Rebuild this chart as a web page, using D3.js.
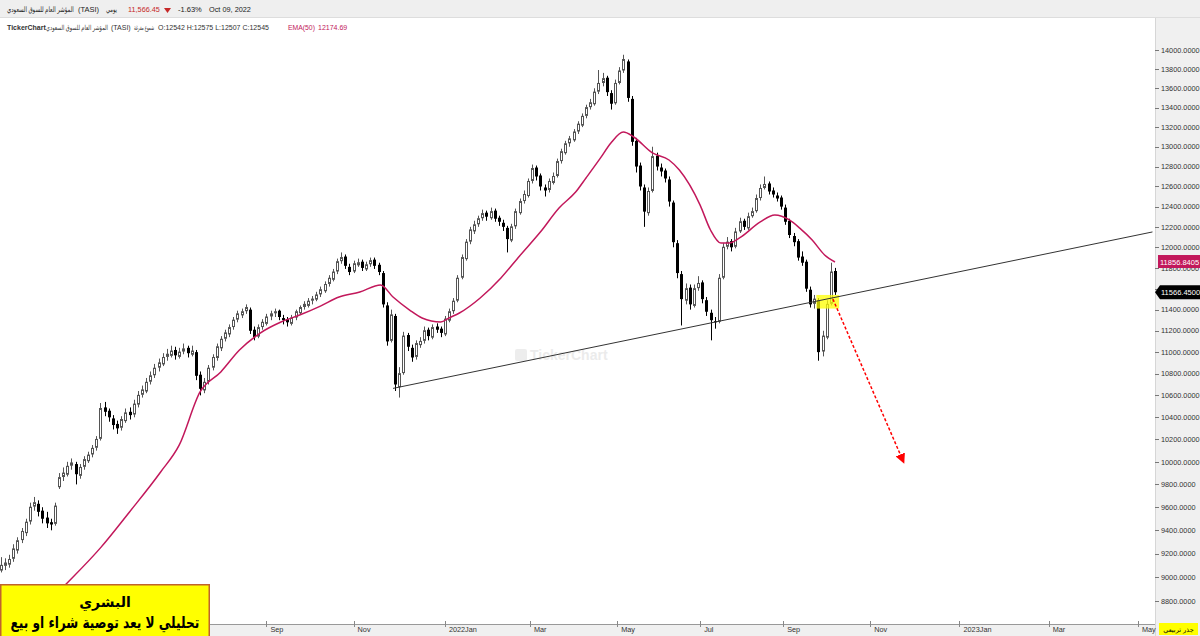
<!DOCTYPE html>
<html>
<head>
<meta charset="utf-8">
<script src="https://cdn.jsdelivr.net/npm/d3@7"></script>
<style>
  html, body { margin: 0; padding: 0; background: #fff; }
  svg { display: block; font-family: "Liberation Sans", "DejaVu Sans", sans-serif; }
</style>
</head>
<body>
<div id="chart"></div>
<script>
// TASI candles, one per two trading days, oldest first (last = Oct 09, 2022)
const opens = [
  9060, 9100, 9110, 9160, 9230, 9320, 9380, 9480, 9610, 9630,
  9570, 9510, 9470, 9460, 9780, 9870, 9890, 9970, 9980, 9880,
  9960, 10010, 10070, 10130, 10210, 10490, 10460, 10390, 10340, 10310,
  10370, 10450, 10430, 10520, 10610, 10640, 10730, 10790, 10860, 10890,
  10960, 10970, 11020, 10960, 11010, 11040, 10980, 11000, 10790, 10650,
  10730, 10860, 10950, 11040, 11130, 11170, 11240, 11310, 11350, 11390,
  11400, 11210, 11150, 11240, 11270, 11340, 11370, 11390, 11320, 11310,
  11270, 11330, 11370, 11430, 11440, 11490, 11500, 11550, 11580, 11650,
  11690, 11770, 11870, 11910, 11810, 11770, 11830, 11860, 11790, 11840,
  11880, 11830, 11750, 11440, 11110, 11340, 10680, 10810, 11160, 11040,
  10960, 11070, 11110, 11210, 11140, 11240, 11220, 11170, 11300, 11390,
  11490, 11710, 11890, 12060, 12160, 12230, 12290, 12340, 12290, 12360,
  12290, 12240, 12190, 12070, 12210, 12340, 12460, 12510, 12660, 12790,
  12710, 12590, 12570, 12640, 12710, 12860, 12940, 13040, 13070, 13160,
  13220, 13320, 13410, 13440, 13570, 13660, 13710, 13550, 13450, 13660,
  13790, 13880, 13490, 13060, 12810, 12590, 12340, 12560, 12910, 12790,
  12760, 12670, 12440, 12040, 11740, 11490, 11610, 11440, 11610, 11660,
  11490, 11370, 11290, 11290, 11710, 12010, 12060, 12010, 12160, 12260,
  12190, 12310, 12360, 12490, 12590, 12630, 12560, 12510, 12490, 12390,
  12260, 12110, 12060, 11910, 11860, 11590, 11460, 11490, 11010, 11140,
  11460, 11770
];
const highs = [
  9170, 9160, 9190, 9280, 9340, 9420, 9500, 9640, 9690, 9660,
  9600, 9560, 9500, 9640, 9900, 9950, 10000, 10030, 10000, 9980,
  10050, 10090, 10150, 10230, 10530, 10540, 10480, 10420, 10370, 10410,
  10480, 10490, 10560, 10640, 10690, 10760, 10820, 10890, 10940, 10990,
  11030, 11060, 11050, 11040, 11080, 11060, 11060, 11020, 10820, 10760,
  10880, 10980, 11080, 11150, 11210, 11260, 11330, 11390, 11410, 11450,
  11420, 11240, 11260, 11310, 11360, 11390, 11410, 11400, 11350, 11330,
  11350, 11400, 11440, 11480, 11510, 11530, 11570, 11620, 11670, 11730,
  11790, 11890, 11950, 11930, 11840, 11870, 11890, 11880, 11860, 11900,
  11900, 11850, 11770, 11470, 11400, 11360, 10860, 11190, 11180, 11070,
  11110, 11140, 11240, 11230, 11260, 11270, 11240, 11340, 11410, 11510,
  11730, 11930, 12080, 12200, 12260, 12310, 12370, 12360, 12390, 12380,
  12310, 12270, 12210, 12230, 12380, 12480, 12560, 12680, 12820, 12810,
  12730, 12620, 12680, 12740, 12880, 12980, 13060, 13110, 13180, 13260,
  13340, 13430, 13490, 13600, 13790, 13760, 13730, 13580, 13690, 13820,
  13950, 13900, 13520, 13090, 12840, 12620, 12590, 13000, 12940, 12830,
  12780, 12700, 12460, 12070, 11770, 11650, 11640, 11640, 11720, 11680,
  11520, 11400, 11330, 11740, 12040, 12100, 12080, 12190, 12290, 12280,
  12340, 12390, 12520, 12620, 12700, 12650, 12590, 12540, 12510, 12420,
  12280, 12140, 12080, 11960, 11880, 11620, 11540, 11510, 11200, 11490,
  11850, 11800
];
const lows = [
  9040, 9060, 9080, 9130, 9200, 9290, 9350, 9450, 9570, 9520,
  9460, 9420, 9400, 9440, 9760, 9830, 9870, 9930, 9800, 9850,
  9930, 9990, 10040, 10100, 10190, 10410, 10360, 10290, 10250, 10280,
  10350, 10380, 10400, 10490, 10580, 10620, 10700, 10760, 10820, 10870,
  10920, 10950, 10930, 10940, 10980, 10950, 10960, 10740, 10600, 10620,
  10700, 10830, 10920, 11010, 11100, 11140, 11210, 11280, 11320, 11360,
  11170, 11110, 11130, 11210, 11250, 11300, 11330, 11300, 11260, 11240,
  11250, 11300, 11350, 11400, 11420, 11450, 11480, 11520, 11560, 11620,
  11670, 11740, 11840, 11790, 11730, 11750, 11810, 11770, 11770, 11810,
  11790, 11730, 11420, 11060, 11090, 10640, 10580, 10790, 11010, 10910,
  10930, 11040, 11080, 11110, 11120, 11180, 11140, 11150, 11280, 11360,
  11470, 11690, 11870, 12030, 12130, 12200, 12260, 12260, 12270, 12250,
  12210, 12160, 11950, 12050, 12180, 12320, 12430, 12490, 12630, 12660,
  12560, 12500, 12540, 12620, 12690, 12830, 12920, 13000, 13050, 13130,
  13200, 13290, 13380, 13420, 13540, 13620, 13520, 13380, 13430, 13640,
  13760, 13460, 13010, 12740, 12560, 12200, 12310, 12540, 12760, 12700,
  12640, 12400, 12000, 11700, 11250, 11450, 11400, 11420, 11580, 11460,
  11340, 11110, 11220, 11270, 11690, 11980, 11960, 11990, 12140, 12170,
  12170, 12290, 12340, 12460, 12570, 12520, 12490, 12450, 12370, 12220,
  12090, 12010, 11870, 11820, 11570, 11420, 11410, 10920, 10960, 11120,
  11440, 11540
];
const closes = [
  9100, 9120, 9150, 9240, 9310, 9390, 9470, 9600, 9640, 9560,
  9500, 9460, 9450, 9610, 9860, 9900, 9960, 9990, 9890, 9950,
  10020, 10060, 10120, 10200, 10480, 10450, 10400, 10330, 10300, 10380,
  10440, 10420, 10520, 10600, 10650, 10720, 10780, 10850, 10900, 10950,
  10980, 11010, 10970, 11000, 11030, 10990, 11010, 10780, 10660, 10720,
  10850, 10950, 11050, 11120, 11180, 11230, 11300, 11360, 11380, 11420,
  11200, 11140, 11230, 11280, 11330, 11360, 11380, 11330, 11300, 11280,
  11320, 11380, 11420, 11450, 11480, 11500, 11540, 11590, 11640, 11700,
  11760, 11860, 11900, 11820, 11760, 11840, 11850, 11800, 11830, 11870,
  11820, 11760, 11450, 11100, 11350, 10700, 10800, 11150, 11050, 10950,
  11080, 11100, 11200, 11150, 11230, 11210, 11180, 11310, 11380, 11480,
  11700, 11900, 12050, 12170, 12220, 12280, 12330, 12300, 12350, 12280,
  12250, 12200, 12080, 12200, 12350, 12450, 12520, 12650, 12780, 12700,
  12600, 12560, 12650, 12700, 12850, 12950, 13030, 13080, 13150, 13230,
  13310, 13400, 13450, 13560, 13650, 13700, 13560, 13440, 13650, 13780,
  13900, 13500, 13050, 12800, 12600, 12350, 12550, 12900, 12800, 12750,
  12680, 12450, 12050, 11750, 11500, 11600, 11450, 11600, 11650, 11500,
  11380, 11300, 11280, 11700, 12000, 12050, 12000, 12150, 12250, 12200,
  12300, 12350, 12480, 12580, 12620, 12550, 12520, 12480, 12400, 12250,
  12120, 12050, 11900, 11850, 11600, 11450, 11500, 11000, 11150, 11450,
  11760, 11566
];

// EMA(50): bar offsets from the last bar, and values
const emaBars = [-398, -383, -371, -354, -340, -325, -316, -306, -296, -287,
  -277, -267, -258, -248, -239, -229, -219, -213, -205, -199,
  -190, -186, -181, -171, -161, -152, -142, -133, -125, -120,
  -113, -108, -102, -97, -88, -80, -75, -65, -60, -55,
  -51, -46, -36, -29, -22, -17, -11, -5, 0];
const emaValues = [8510, 8725, 8934, 9249, 9559, 9910, 10151, 10632, 10816, 11019,
  11179, 11283, 11349, 11434, 11520, 11568, 11635, 11520, 11396, 11321,
  11283, 11321, 11368, 11511, 11703, 11916, 12149, 12386, 12544, 12685,
  12887, 13038, 13149, 13099, 12937, 12866, 12765, 12415, 12169, 12041,
  12041, 12091, 12248, 12316, 12268, 12188, 12071, 11925, 11857];

// drawings on the chart (bar offsets / prices)
const trendBars = [-213, 153];
const trendValues = [10664, 12150];
const arrowBars = [-1, 33];
const arrowValues = [11500, 10000];
const zoneBars = [-9, 2];
const zoneValues = [11410, 11540];

const yTicks = d3.range(8800, 14001, 200);
const lastPrice = 11566.45;
const lastEma = 11856.8405;
const holidays = ["2021-09-23", "2022-02-22", "2022-04-28", "2022-05-01", "2022-05-02",
  "2022-05-03", "2022-05-04", "2022-05-05", "2022-07-07", "2022-07-10", "2022-07-11",
  "2022-07-12", "2022-09-22"];

const W = 1200, H = 636;
const plotRight = 1155, plotTop = 18, axisTop = 624;

const svg = d3.select("#chart").append("svg")
  .attr("width", W).attr("height", H)
  .attr("viewBox", `0 0 ${W} ${H}`);

// scales: trading-day index (2.075px per bar), square-root price axis
const x = d3.scaleLinear().domain([-400, 0]).range([5, 835]);
const y = d3.scaleSqrt().domain([8800, 14000]).range([601, 50]);

// trading calendar (Sun-Thu) for the month ticks
const parse = d3.utcParse("%Y-%m-%d");
const fmt = d3.utcFormat("%Y-%m-%d");
const hol = new Set(holidays);
const days = d3.utcDay.range(parse("2021-01-01"), parse("2023-07-01"))
  .filter((d) => d.getUTCDay() <= 4 && !hol.has(fmt(d)));
const lastIdx = days.findIndex((d) => fmt(d) === "2022-10-09");
const xTicks = d3.utcMonth.range(parse("2021-03-01"), parse("2023-06-01"), 2).map((m) => ({
  k: days.findIndex((d) => d >= m) - lastIdx,
  label: m.getUTCMonth() === 0 ? m.getUTCFullYear() + "Jan" : d3.utcFormat("%b")(m),
}));

const defs = svg.append("defs");
defs.append("clipPath").attr("id", "plotClip")
  .append("rect").attr("x", 0).attr("y", plotTop).attr("width", plotRight).attr("height", axisTop - plotTop);
defs.append("marker")
  .attr("id", "redHead")
  .attr("viewBox", "0 0 10 10")
  .attr("refX", 8).attr("refY", 5)
  .attr("markerUnits", "userSpaceOnUse")
  .attr("markerWidth", 10).attr("markerHeight", 10)
  .attr("orient", "auto")
  .append("path").attr("d", "M0,0 L10,5 L0,10 z").attr("fill", "#ff0000");

svg.append("rect").attr("width", W).attr("height", H).attr("fill", "#fff");

const plot = svg.append("g").attr("clip-path", "url(#plotClip)");

// watermark
const wm = plot.append("g").attr("opacity", 0.45);
wm.append("rect").attr("x", 515).attr("y", 349).attr("width", 12).attr("height", 12)
  .attr("rx", 2).attr("fill", "#d8d8d8");
wm.append("text").attr("x", 530).attr("y", 360).attr("font-size", 14).attr("font-weight", "bold")
  .attr("fill", "#d4d4d4").text("TickerChart");

// candles
const candles = closes.map((c, j) => ({
  k: 2 * j - 2 * (closes.length - 1),
  o: opens[j], h: highs[j], l: lows[j], c,
}));
const cg = plot.append("g");
cg.selectAll("line")
  .data(candles)
  .join("line")
  .attr("x1", (d) => Math.round(x(d.k)) + 0.5)
  .attr("x2", (d) => Math.round(x(d.k)) + 0.5)
  .attr("y1", (d) => y(d.h))
  .attr("y2", (d) => y(d.l))
  .attr("stroke", (d) => (d.c >= d.o ? "#555" : "#000"))
  .attr("stroke-width", 1);
cg.selectAll("rect")
  .data(candles)
  .join("rect")
  .attr("x", (d) => (d.c >= d.o ? Math.round(x(d.k)) - 0.5 : Math.round(x(d.k)) - 1))
  .attr("width", (d) => (d.c >= d.o ? 2 : 3))
  .attr("y", (d) => y(Math.max(d.o, d.c)))
  .attr("height", (d) => Math.max(1, Math.abs(y(d.o) - y(d.c))))
  .attr("fill", (d) => (d.c >= d.o ? "#fff" : "#000"))
  .attr("stroke", (d) => (d.c >= d.o ? "#555" : "none"))
  .attr("stroke-width", 1);

// EMA(50)
plot.append("path")
  .datum(emaBars.map((b, i) => [b, emaValues[i]]))
  .attr("fill", "none")
  .attr("stroke", "#c2185b")
  .attr("stroke-width", 1.5)
  .attr("d", d3.line().x((d) => x(d[0])).y((d) => y(d[1])).curve(d3.curveMonotoneX));

// highlighted zone
plot.append("rect")
  .attr("x", x(zoneBars[0])).attr("width", x(zoneBars[1]) - x(zoneBars[0]))
  .attr("y", y(zoneValues[1])).attr("height", y(zoneValues[0]) - y(zoneValues[1]))
  .attr("fill", "#ffff00").attr("opacity", 0.75);

// trendline
plot.append("line")
  .attr("x1", x(trendBars[0])).attr("y1", y(trendValues[0]))
  .attr("x2", x(trendBars[1])).attr("y2", y(trendValues[1]))
  .attr("stroke", "#333").attr("stroke-width", 1);

// red dashed arrow
plot.append("line")
  .attr("x1", x(arrowBars[0])).attr("y1", y(arrowValues[0]))
  .attr("x2", x(arrowBars[1])).attr("y2", y(arrowValues[1]))
  .attr("stroke", "#ff0000").attr("stroke-width", 1.5)
  .attr("stroke-dasharray", "3,2")
  .attr("marker-end", "url(#redHead)");

// right price axis (the last-price tag hides the label under it)
svg.append("rect").attr("x", plotRight).attr("y", plotTop).attr("width", W - plotRight)
  .attr("height", H - plotTop).attr("fill", "#f0f0f0");
svg.append("line").attr("x1", plotRight + 0.5).attr("x2", plotRight + 0.5)
  .attr("y1", plotTop).attr("y2", H).attr("stroke", "#d6d6d6");
const ya = svg.append("g").attr("font-size", 7.3).attr("fill", "#333");
ya.selectAll("line").data(yTicks).join("line")
  .attr("x1", plotRight).attr("x2", plotRight + 4)
  .attr("y1", (d) => Math.round(y(d)) + 0.5).attr("y2", (d) => Math.round(y(d)) + 0.5)
  .attr("stroke", "#777");
ya.selectAll("text").data(yTicks.filter((d) => Math.abs(y(d) - y(lastPrice)) > 6)).join("text")
  .attr("x", plotRight + 6).attr("y", (d) => y(d) + 2.7)
  .text((d) => d3.format(".4f")(d));

// EMA and last price tags
svg.append("rect").attr("x", 1158).attr("y", y(lastEma) - 7).attr("width", 42).attr("height", 13)
  .attr("fill", "#c2185b");
svg.append("text").attr("x", 1160).attr("y", y(lastEma) + 2.5).attr("font-size", 7.5)
  .attr("fill", "#fff").text(d3.format(".4f")(lastEma));
const yp = y(lastPrice);
svg.append("path")
  .attr("d", `M${plotRight},${yp} L${plotRight + 5},${yp - 7} L${W},${yp - 7} L${W},${yp + 7} L${plotRight + 5},${yp + 7} Z`)
  .attr("fill", "#000");
svg.append("text").attr("x", 1161).attr("y", yp + 3).attr("font-size", 7.5)
  .attr("fill", "#fff").text(d3.format(".4f")(lastPrice));

// bottom time axis
svg.append("rect").attr("x", 0).attr("y", axisTop).attr("width", plotRight).attr("height", H - axisTop)
  .attr("fill", "#f0f0f0");
svg.append("line").attr("x1", 0).attr("x2", plotRight).attr("y1", axisTop + 0.5).attr("y2", axisTop + 0.5)
  .attr("stroke", "#999");
const xa = svg.append("g").attr("font-size", 7.3).attr("fill", "#333");
xa.selectAll("line").data(xTicks).join("line")
  .attr("x1", (d) => Math.round(x(d.k)) + 0.5).attr("x2", (d) => Math.round(x(d.k)) + 0.5)
  .attr("y1", axisTop - 3).attr("y2", axisTop + 3)
  .attr("stroke", "#888");
xa.selectAll("text").data(xTicks.filter((d) => x(d.k) > 215)).join("text")
  .attr("x", (d) => x(d.k) + 4).attr("y", H - 4)
  .text((d) => d.label);

// text squeezed horizontally into a given width (Arabic runs are wider in DejaVu)
const squeeze = (g, txt, x0, y0, len, anchor) => {
  const t = g.append("text").attr("x", 0).attr("y", 0).text(txt);
  const w = t.node().getComputedTextLength();
  const k = len && w > len ? len / w : 1;
  const dx = anchor === "middle" ? -w * k / 2 : 0;
  t.attr("transform", `translate(${x0 + dx},${y0}) scale(${k},1)`);
  return t;
};

// scale type tag (square root)
svg.append("rect").attr("x", 1159).attr("y", 623).attr("width", 39).attr("height", 12).attr("fill", "#ffff00");
const sq = svg.append("g").attr("font-family", "DejaVu Sans").attr("font-size", 6.5).attr("fill", "#000");
squeeze(sq, "جذر تربيعي", 1178.5, 632, 34, "middle");

// header
svg.append("rect").attr("width", W).attr("height", plotTop).attr("fill", "#efefef");
svg.append("line").attr("x1", 0).attr("x2", W).attr("y1", plotTop - 0.5).attr("y2", plotTop - 0.5)
  .attr("stroke", "#dddddd");

const h1 = svg.append("g").attr("font-size", 7.5).attr("fill", "#222");
squeeze(h1, "المؤشر العام للسوق السعودي", 7, 12, 67);
squeeze(h1, "(TASI)", 78, 12, 22);
squeeze(h1, "يومي", 106, 12, 11);
squeeze(h1, "11,566.45", 128, 12, 32).attr("fill", "#c62828");
h1.append("path").attr("d", "M164,8 L171,8 L167.5,13 Z").attr("fill", "#c62828");
squeeze(h1, "-1.63%", 178, 12, 24);
squeeze(h1, "Oct 09, 2022", 209, 12, 42);

const h2 = svg.append("g").attr("font-size", 7).attr("fill", "#333");
squeeze(h2, "TickerChart", 7, 30, 37).attr("font-weight", "bold");
squeeze(h2, "المؤشر العام للسوق السعودي", 46, 30, 62);
squeeze(h2, "(TASI)", 111, 30, 20);
squeeze(h2, "شموع مفرغة", 134, 30, 20);
squeeze(h2, "O:12542 H:12575 L:12507 C:12545", 158, 30, 121);
squeeze(h2, "EMA(50)", 288, 30, 27).attr("fill", "#c2185b");
squeeze(h2, "12174.69", 318, 30, 30).attr("fill", "#c2185b");

// disclaimer box
const box = svg.append("g").attr("font-family", "DejaVu Sans").attr("font-weight", "bold").attr("fill", "#000");
box.append("rect").attr("x", 0.75).attr("y", 584.75).attr("width", 208.5).attr("height", 52)
  .attr("fill", "#ffff00").attr("stroke", "#c0632d").attr("stroke-width", 1.5);
squeeze(box.append("g").attr("font-size", 14), "البشري", 105, 607, 60, "middle");
squeeze(box.append("g").attr("font-size", 16), "تحليلي لا يعد توصية شراء او بيع", 105, 628, 189, "middle");
</script>
</body>
</html>
